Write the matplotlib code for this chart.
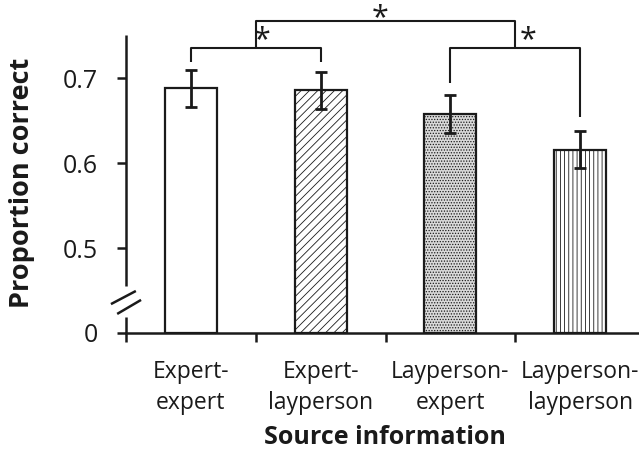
import numpy as np
import matplotlib
matplotlib.use("Agg")
import matplotlib.pyplot as plt

# Mean proportion correct per source condition, with error-bar half-widths
categories = ["Expert-\nexpert", "Expert-\nlayperson", "Layperson-\nexpert", "Layperson-\nlayperson"]
means = [0.688, 0.686, 0.658, 0.616]
errors = [0.022, 0.022, 0.022, 0.022]
ytick_values = [0, 0.5, 0.6, 0.7]
ytick_labels = ["0", "0.5", "0.6", "0.7"]
hatches = ["", "////", "......", "||||"]
faces = ["white", "white", "#d9d9d9", "white"]

plt.rcParams["font.family"] = ["Open Sans", "DejaVu Sans"]
plt.rcParams["hatch.color"] = "#555555"
plt.rcParams["hatch.linewidth"] = 0.6

INK = "#1a1a1a"


# Broken y scale: values from 0.5 up are linear, the 0-0.5 range is compressed
def fwd(v):
    v = np.asarray(v, dtype=float)
    return np.where(v >= 0.5, v, 0.4 + 0.2 * v)


def inv(u):
    u = np.asarray(u, dtype=float)
    return np.where(u >= 0.5, u, (u - 0.4) / 0.2)


fig = plt.figure(figsize=(6.39, 4.54), dpi=100)
ax = fig.add_axes([126 / 639, (454 - 333) / 454, 519 / 639, 298 / 454])
ax.set_yscale("function", functions=(fwd, inv))

x = np.arange(len(categories))
ax.bar(x, means, width=0.4, color=faces, edgecolor=INK, linewidth=1.6,
       hatch=hatches, zorder=2)
ax.errorbar(x, means, yerr=errors, fmt="none", ecolor=INK, elinewidth=2,
            capsize=4, capthick=2, zorder=3)

ax.set_xlim(-0.5, 3.5)
ax.set_ylim(0, 0.751)
ax.set_yticks(ytick_values)
ax.set_yticklabels(ytick_labels)
ax.set_xticks([-0.5, 0.5, 1.5, 2.5, 3.5])
ax.set_xticklabels([])
ax.tick_params(axis="y", direction="out", length=6.5, width=1.8, labelsize=18,
               colors=INK, pad=14)
ax.tick_params(axis="x", direction="out", length=6.5, width=1.8, colors=INK)
ax.yaxis.set_minor_locator(matplotlib.ticker.NullLocator())

for i, lab in enumerate(categories):
    ax.text(i, -0.092, lab, transform=ax.get_xaxis_transform(), ha="center",
            va="top", fontsize=16.5, color=INK, linespacing=1.37)

for s in ["top", "right", "left"]:
    ax.spines[s].set_visible(False)
ax.spines["bottom"].set_linewidth(1.8)
ax.spines["bottom"].set_color(INK)

# Left spine drawn in two pieces with a break marker
lk = dict(transform=ax.transAxes, clip_on=False, color=INK, lw=1.8,
          solid_capstyle="butt")
ax.plot([0, 0], [0, 0.054], **lk)
ax.plot([0, 0], [0.158, 1], **lk)
ax.plot([-0.029, 0.019], [0.097, 0.141], **lk)
ax.plot([-0.017, 0.029], [0.064, 0.111], **lk)

fig.text(22 / 639, (454 - 182.5) / 454, "Proportion correct", rotation=90,
         ha="center", va="center", fontsize=19.5, fontweight="bold", color=INK)
fig.text(384.5 / 639, (454 - 438) / 454, "Source information", ha="center",
         va="center", fontsize=18, fontweight="bold", color=INK)

# Significance brackets
bk = dict(color=INK, lw=1.5, clip_on=False, solid_capstyle="butt")
y1 = 0.736
ytop = 0.767
ax.plot([0, 0, 1, 1], [0.719, y1, y1, 0.719], **bk)
ax.plot([2, 2, 3, 3], [0.6945, y1, y1, 0.6545], **bk)
ax.plot([0.5, 0.5, 2.5, 2.5], [y1, ytop, ytop, y1], **bk)
sk = dict(fontsize=22, color=INK, clip_on=False, ha="center", va="baseline")
ax.text(0.548, 0.735, "*", **sk)
ax.text(2.60, 0.735, "*", **sk)
ax.text(1.46, 0.761, "*", **sk)

fig.savefig("out.png", dpi=100)
